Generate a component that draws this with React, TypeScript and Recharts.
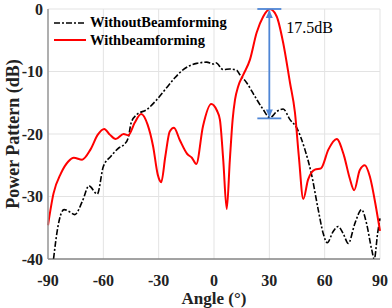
import React from 'react';
import {
  LineChart,
  Line,
  XAxis,
  YAxis,
  CartesianGrid,
  Legend,
  ReferenceLine,
} from 'recharts';

// Angle (deg) and power (dB)
const withAngles = [
  -90, -87, -83, -79, -76, -71.5, -67, -63, -59.5, -56.5, -53.3, -49, -46.5, -43, -39.5, -36, -33,
  -30.5, -28.6, -26.4, -24, -21.7, -18.5, -14.5, -12, -9.6, -6, -1.5, 1.5, 3.2, 5, 6.9, 8.6, 10.1,
  11.4, 13.1, 15.9, 19.5, 23.1, 26.7, 30.3, 34, 37.5, 41.2, 43.9, 46, 48.4, 51, 54.7, 58, 62, 66.5,
  70.5, 73.5, 76, 79, 81.8, 84.5, 88, 90,
];
const withDb = [
  -34.6, -29.5, -26.3, -24.4, -23.8, -24.1, -22.5, -20.1, -19.2, -20.1, -20.8, -20.0, -20.2, -18.2,
  -16.8, -18.5, -22.0, -26.5, -27.7, -23.6, -19.6, -19.0, -21.0, -23.2, -23.8, -24.8, -18.8, -15.2,
  -16.2, -17.7, -24.1, -32.0, -24.1, -17.7, -14.5, -12.4, -10.5, -8.1, -3.8, -1.2, 0, -1.2, -5.4,
  -11.8, -16.6, -23.6, -30.4, -27.3, -25.7, -25.5, -22.5, -20.8, -23.5, -27.0, -29.0, -25.8, -25.0,
  -26.8, -32.0, -35.5,
];

const withoutAngles = [
  -87, -84.6, -81.3, -78, -75.5, -71.4, -67.8, -63.3, -60, -56, -51.5, -48.8, -46.5, -44.9, -41.9,
  -36.5, -31, -25.7, -21.2, -16.7, -9.4, -7.6, -4, -0.4, 1, 5, 8.6, 12.3, 14, 17.7, 22.2, 26.7,
  30.3, 34, 37.5, 41.2, 44.8, 49.3, 52.9, 56.5, 59.2, 61.4, 64.6, 67.3, 70, 72.8, 76.4, 80, 82.7,
  85.5, 86.9, 88.7, 90,
];
const withoutDb = [
  -40, -34.8, -32.1, -32.5, -32.9, -30.8, -28.3, -29.6, -25.2, -23.6, -22.2, -21.7, -20.6, -18.2,
  -16.9, -16.1, -14.5, -12.6, -11.0, -9.7, -8.7, -8.6, -8.5, -8.8, -8.6, -9.7, -9.6, -9.8, -10.5,
  -11.8, -14.0, -16.1, -17.4, -16.4, -16.0, -17.7, -19.0, -22.5, -26.5, -32.1, -35.9, -37.4, -35.6,
  -34.8, -35.9, -37.5, -34.3, -32.1, -34.3, -38.5, -40, -35.9, -33.5,
];

const xTicks = [-90, -60, -30, 0, 30, 60, 90];
const yTicks = [-40, -30, -20, -10, 0];

const beamAngle = 30;
const gainTop = 0;
const gainBottom = -17.5;
const gainLabel = '17.5dB';

const withData = withAngles.map((a, i) => ({ angle: a, db: withDb[i] }));
const withoutData = withoutAngles.map((a, i) => ({ angle: a, db: withoutDb[i] }));

const SERIF = '"Liberation Serif", "Times New Roman", serif';
const BLUE = '#4f86d6';
const TEXT = '#222';

const XTick = (p: any) => (
  <text x={p.x} y={p.y + 11} textAnchor="middle" fontFamily={SERIF} fontWeight="bold" fontSize={16} fill={TEXT}>
    {p.payload.value}
  </text>
);

const YTick = (p: any) => (
  <text x={p.x} y={p.y + 5.5} textAnchor="end" fontFamily={SERIF} fontWeight="bold" fontSize={16} fill={TEXT}>
    {p.payload.value}
  </text>
);

const XTitle = ({ viewBox }: any) => (
  <text
    x={viewBox.x + viewBox.width / 2}
    y={viewBox.y + viewBox.height - 4}
    textAnchor="middle"
    fontFamily={SERIF}
    fontWeight="bold"
    fontSize={17}
    fill={TEXT}
  >
    Angle (°)
  </text>
);

const YTitle = ({ viewBox }: any) => {
  const cx = viewBox.x + 13;
  const cy = viewBox.y + viewBox.height / 2;
  return (
    <text
      x={cx}
      y={cy}
      transform={`rotate(-90, ${cx}, ${cy})`}
      textAnchor="middle"
      dominantBaseline="central"
      fontFamily={SERIF}
      fontWeight="bold"
      fontSize={18}
      fill={TEXT}
    >
      Power Pattern (dB)
    </text>
  );
};

const LegendBox = () => (
  <div style={{ fontFamily: SERIF, fontWeight: 'bold', fontSize: 14.5, color: '#000', lineHeight: '17.5px' }}>
    {[
      { name: 'WithoutBeamforming', color: '#000', dash: '6 2 2 2', w: 1.6 },
      { name: 'Withbeamforming', color: '#ff0000', dash: undefined, w: 2 },
    ].map((item) => (
      <div key={item.name} style={{ display: 'flex', alignItems: 'center', whiteSpace: 'nowrap' }}>
        <svg width={34} height={10} style={{ marginRight: 2 }}>
          <line x1={0} y1={5} x2={32} y2={5} stroke={item.color} strokeWidth={item.w} strokeDasharray={item.dash} />
        </svg>
        <span>{item.name}</span>
      </div>
    ))}
  </div>
);

const GainBracket = (props: any) => {
  const { x1, y1, y2 } = props;
  const x = x1;
  const top = Math.min(y1, y2);
  const bottom = Math.max(y1, y2);
  return (
    <g>
      <line x1={x} y1={top + 2} x2={x} y2={bottom - 2} stroke={BLUE} strokeWidth={1.8} />
      <line x1={x - 12} y1={top} x2={x + 12} y2={top} stroke={BLUE} strokeWidth={1.8} />
      <line x1={x - 12} y1={bottom} x2={x + 12} y2={bottom} stroke={BLUE} strokeWidth={1.8} />
      <polygon points={`${x},${top + 1} ${x - 3.5},${top + 9} ${x + 3.5},${top + 9}`} fill={BLUE} />
      <polygon points={`${x},${bottom - 1} ${x - 3.5},${bottom - 9} ${x + 3.5},${bottom - 9}`} fill={BLUE} />
      <text x={x + 17} y={top + 23.5} fontFamily={SERIF} fontSize={16} fill="#000">
        {gainLabel}
      </text>
    </g>
  );
};

export default function App() {
  return (
    <div style={{ position: 'absolute', left: 0, top: 0, background: '#fff' }}>
      <LineChart width={392} height={308} margin={{ top: 9, right: 12, left: 0, bottom: 0 }}>
        <CartesianGrid stroke="#e3e3e3" strokeWidth={1} />
        <XAxis
          type="number"
          dataKey="angle"
          domain={[-90, 90]}
          ticks={xTicks}
          height={49}
          tickSize={0}
          tickMargin={16}
          stroke="#555"
          tick={<XTick />}
          label={{ content: XTitle }}
        />
        <YAxis
          type="number"
          domain={[-40, 0]}
          ticks={yTicks}
          allowDataOverflow
          width={48}
          tickSize={0}
          tickMargin={5}
          stroke="#999"
          strokeWidth={1.5}
          tick={<YTick />}
          label={{ content: YTitle }}
        />
        <Legend
          layout="horizontal"
          verticalAlign="middle"
          align="center"
          content={() => <LegendBox />}
          wrapperStyle={{ top: 14, left: 54, width: 200, height: 36 }}
        />
        <Line
          data={withoutData}
          dataKey="db"
          name="WithoutBeamforming"
          type="monotone"
          stroke="#000"
          strokeWidth={1.6}
          strokeDasharray="6 2 2 2"
          dot={false}
          isAnimationActive={false}
        />
        <Line
          data={withData}
          dataKey="db"
          name="Withbeamforming"
          type="monotone"
          stroke="#ff0000"
          strokeWidth={2}
          dot={false}
          isAnimationActive={false}
        />
        <ReferenceLine
          segment={[
            { x: beamAngle, y: gainTop },
            { x: beamAngle, y: gainBottom },
          ]}
          shape={GainBracket}
        />
      </LineChart>
    </div>
  );
}
